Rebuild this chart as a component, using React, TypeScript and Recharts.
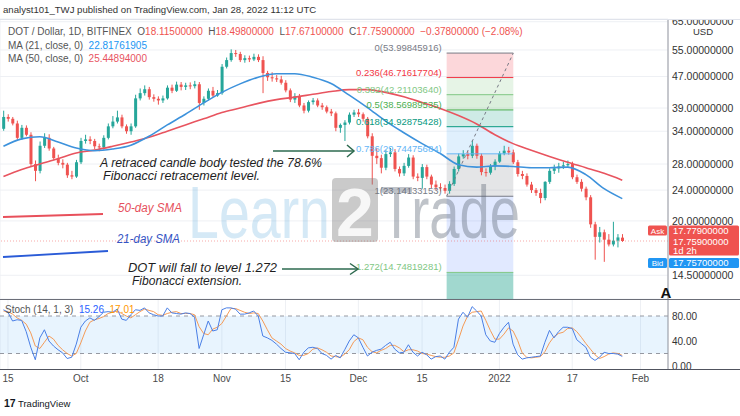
import React from 'react';
import {
  ComposedChart,
  Bar,
  Line,
  XAxis,
  YAxis,
  CartesianGrid,
  ReferenceArea,
  ReferenceLine,
} from 'recharts';

// DOT/USD daily candles, index 0 = Sep 14 2021 ... index 136 = Jan 28 2022
const opens = [
  34.5, 37.0, 36.6, 35.6, 32.7, 34.7, 33.3, 28.0, 26.9, 31.2,
  32.7, 30.7, 29.0, 28.2, 27.9, 26.2, 26.0, 28.3, 32.1, 32.4,
  32.1, 31.1, 30.9, 32.7, 35.0, 36.0, 36.9, 35.0, 34.0, 35.0,
  41.3, 42.6, 43.6, 41.6, 41.2, 40.8, 41.3, 44.0, 43.2, 44.8,
  44.2, 44.6, 44.4, 44.9, 40.2, 41.2, 43.2, 42.0, 42.6, 49.8,
  51.8, 54.0, 53.7, 51.8, 52.4, 52.0, 52.8, 51.8, 48.0, 46.8,
  46.5, 46.2, 45.3, 43.3, 41.0, 41.8, 39.6, 38.4, 40.4, 40.8,
  39.6, 39.2, 38.2, 37.8, 34.7, 35.3, 35.8, 37.5, 38.0, 37.6,
  36.6, 33.0, 29.4, 29.0, 27.4, 29.7, 30.0, 27.2, 26.5, 27.7,
  29.1, 26.0, 25.8, 27.5, 26.0, 24.8, 24.4, 24.3, 23.9, 24.9,
  27.2, 29.3, 29.7, 29.4, 31.2, 29.4, 26.7, 26.6, 27.6, 28.4,
  29.8, 30.3, 30.0, 28.3, 26.4, 26.1, 24.8, 24.0, 23.6, 22.9,
  25.2, 26.9, 27.3, 27.6, 27.8, 28.0, 25.9, 25.2, 24.2, 23.0,
  19.6, 18.2, 18.7, 17.9, 17.4, 17.8, 18.115,
];
const highs = [
  38.4, 37.6, 37.0, 36.2, 35.3, 35.2, 33.8, 28.6, 32.0, 33.6,
  33.4, 31.0, 29.6, 28.8, 28.2, 26.9, 28.7, 32.7, 33.3, 33.0,
  32.5, 31.6, 33.2, 35.6, 37.2, 38.4, 37.5, 35.4, 35.6, 42.2,
  43.8, 44.6, 44.2, 42.3, 41.8, 42.0, 44.6, 44.8, 45.6, 45.5,
  45.3, 45.4, 45.8, 45.5, 41.8, 43.8, 44.2, 43.4, 50.6, 52.6,
  55.2, 55.0, 54.4, 53.3, 53.2, 53.8, 53.6, 53.0, 48.6, 48.2,
  47.4, 47.2, 46.0, 43.8, 42.6, 42.4, 40.2, 40.8, 41.4, 41.3,
  40.2, 39.6, 38.8, 38.2, 35.6, 36.3, 38.0, 38.6, 38.8, 38.0,
  37.0, 33.6, 30.8, 29.6, 30.4, 30.8, 30.6, 27.6, 28.2, 29.7,
  29.5, 26.5, 28.0, 27.9, 26.3, 25.4, 25.0, 24.8, 25.3, 27.6,
  29.8, 30.4, 30.2, 32.2, 31.6, 29.8, 27.3, 28.0, 28.8, 30.2,
  31.2, 31.0, 30.5, 28.7, 26.9, 26.5, 25.2, 24.3, 24.2, 25.3,
  27.3, 27.9, 28.2, 28.4, 28.6, 28.4, 26.3, 25.6, 24.5, 23.3,
  19.9, 19.3, 19.0, 18.5, 19.9, 18.5, 18.498,
];
const lows = [
  34.1, 36.0, 35.2, 32.3, 32.3, 33.0, 27.6, 25.3, 26.5, 30.8,
  30.3, 28.7, 27.8, 27.3, 25.8, 25.6, 25.8, 28.0, 31.6, 31.5,
  30.6, 30.2, 30.5, 32.4, 34.6, 35.6, 34.6, 33.5, 33.3, 34.7,
  40.8, 42.0, 41.0, 40.5, 39.8, 40.2, 41.0, 42.6, 42.9, 43.3,
  43.4, 43.6, 43.8, 38.6, 39.6, 40.8, 41.6, 41.7, 42.2, 49.3,
  51.3, 52.8, 51.2, 51.0, 51.2, 51.5, 51.2, 42.6, 45.8, 45.6,
  45.5, 44.8, 42.8, 40.4, 40.2, 39.2, 37.8, 38.0, 39.8, 39.2,
  38.6, 37.8, 37.2, 34.0, 33.7, 32.1, 35.4, 37.0, 37.0, 36.0,
  32.6, 24.8, 28.0, 26.5, 27.0, 29.2, 26.8, 26.0, 26.1, 27.4,
  25.6, 25.3, 24.2, 25.6, 24.3, 24.0, 23.8, 23.5, 23.5, 24.6,
  26.8, 28.9, 28.8, 29.0, 28.9, 26.2, 26.0, 26.3, 27.0, 28.2,
  29.5, 29.6, 28.0, 26.0, 25.6, 24.5, 23.6, 23.2, 22.2, 22.6,
  24.9, 26.4, 26.6, 27.2, 27.4, 25.6, 24.9, 23.8, 22.6, 19.2,
  15.9, 17.6, 15.7, 17.2, 17.2, 17.1, 17.671,
];
const closes = [
  37.0, 36.6, 35.6, 32.7, 34.7, 33.3, 28.0, 26.9, 31.2, 32.7,
  30.7, 29.0, 28.2, 27.9, 26.2, 26.0, 28.3, 32.1, 32.4, 32.1,
  31.1, 30.9, 32.7, 35.0, 36.0, 36.9, 35.0, 34.0, 35.0, 41.3,
  42.6, 43.6, 41.6, 41.2, 40.8, 41.3, 44.0, 43.2, 44.8, 44.2,
  44.6, 44.4, 44.9, 40.2, 41.2, 43.2, 42.0, 42.6, 49.8, 51.8,
  54.0, 53.7, 51.8, 52.4, 52.0, 52.8, 51.8, 48.0, 46.8, 46.5,
  46.2, 45.3, 43.3, 41.0, 41.8, 39.6, 38.4, 40.4, 40.8, 39.6,
  39.2, 38.2, 37.8, 34.7, 35.3, 35.8, 37.5, 38.0, 37.6, 36.6,
  33.0, 29.4, 29.0, 27.4, 29.7, 30.0, 27.2, 26.5, 27.7, 29.1,
  26.0, 25.8, 27.5, 26.0, 24.8, 24.4, 24.3, 23.9, 24.9, 27.2,
  29.3, 29.7, 29.4, 31.2, 29.4, 26.7, 26.6, 27.6, 28.4, 29.8,
  30.3, 30.0, 28.3, 26.4, 26.1, 24.8, 24.0, 23.6, 22.9, 25.2,
  26.9, 27.3, 27.6, 27.8, 28.0, 25.9, 25.2, 24.2, 23.0, 19.6,
  18.2, 18.7, 17.9, 17.4, 17.8, 18.137, 17.759,
];

// moving averages, every 4th day
const maDays = [
  0, 4, 8, 12, 16, 20, 24, 28, 32, 36, 40, 44, 48, 52, 56, 60, 64, 68,
  72, 76, 80, 84, 88, 92, 96, 100, 104, 108, 112, 116, 120, 124, 128, 132, 136,
];
const ma21 = [
  31.1, 32.5, 32.9, 31.9, 30.8, 30.3, 30.6, 31.3, 33.0, 35.3, 37.6, 40.2,
  42.8, 45.0, 46.8, 47.8, 47.8, 46.8, 45.1, 42.1, 39.1, 36.1, 33.7, 31.6,
  29.8, 27.9, 27.5, 27.7, 27.6, 27.4, 27.4, 27.5, 26.3, 24.2, 22.82,
];
const ma50 = [
  26.0, 27.1, 28.0, 28.9, 29.9, 30.4, 31.1, 31.9, 32.8, 34.0, 35.3, 36.6,
  38.0, 39.0, 40.1, 41.0, 41.6, 42.3, 43.0, 43.5, 43.5, 42.8, 41.7, 40.3,
  38.9, 37.3, 35.5, 33.3, 31.6, 30.4, 29.3, 28.3, 27.4, 26.5, 25.45,
];

// Stoch (14, 1, 3)
const stochK = [
  90, 86, 72, 74, 73, 55, 30, 10, 45, 58, 40, 32, 26, 21, 12, 14, 35, 62, 72, 77,
  73, 79, 86, 87, 86, 91, 75, 73, 82, 90, 89, 93, 85, 82, 80, 80, 93, 85, 84, 83,
  85, 84, 78, 28, 50, 72, 56, 58, 90, 93, 93, 91, 83, 83, 85, 88, 80, 48, 45, 41,
  35, 28, 22, 21, 20, 10, 22, 29, 30, 28, 20, 17, 11, 17, 13, 26, 40, 50, 45, 30,
  16, 22, 25, 27, 33, 38, 27, 21, 22, 34, 22, 16, 22, 18, 11, 15, 16, 11, 22, 30,
  75, 86, 78, 95, 88, 80, 50, 40, 38, 52, 62, 70, 35, 18, 11, 13, 14, 15, 16, 38,
  57, 45, 55, 62, 62, 60, 42, 36, 30, 14, 9, 14, 22, 20, 20, 19, 15.26,
];
const stochD = [
  88, 87, 83, 77, 73, 67, 53, 32, 28, 38, 48, 43, 33, 26, 20, 16, 20, 37, 56, 70,
  74, 76, 79, 84, 86, 88, 84, 80, 77, 82, 87, 91, 89, 87, 82, 81, 84, 86, 87, 84,
  84, 84, 82, 63, 52, 50, 59, 62, 68, 80, 92, 92, 89, 86, 84, 85, 84, 72, 58, 45,
  40, 35, 28, 24, 21, 17, 17, 20, 27, 29, 26, 22, 16, 15, 14, 19, 26, 39, 45, 42,
  30, 23, 21, 25, 28, 33, 33, 29, 23, 26, 26, 24, 20, 19, 17, 15, 14, 14, 16, 21,
  42, 64, 80, 86, 87, 88, 73, 57, 43, 43, 51, 61, 56, 41, 21, 14, 13, 14, 15, 23,
  37, 47, 52, 54, 60, 61, 55, 46, 36, 27, 18, 12, 15, 19, 21, 20, 17.01,
];

// time axis
const tickDays = [1, 17, 34, 48, 62, 78, 92, 109, 125, 140];
const tickLabels = ['15', 'Oct', '18', 'Nov', '15', 'Dec', '15', '2022', '17', 'Feb'];
const priceTicks = [14.5, 20, 24, 28, 34, 39, 47, 55, 65];
const stochTicks = [0, 40, 80];

// fibonacci retracement drawing
const fibRatios = ['0', '0.236', '0.382', '0.5', '0.618', '0.786', '1', '1.272'];
const fibPrices = [
  53.99845916, 46.71617704, 42.2110364, 38.56989535, 34.92875428, 29.74475684,
  23.14133153, 14.74819281,
];
const fibStart = 97.4;
const fibEnd = 112.05;
const lastPrice = 17.759;

const fibLineColors = ['#787b86', '#f23645', '#81c784', '#4caf50', '#089981', '#64b5f6', '#787b86', '#81c784'];
const fibBandColors = ['#f23645', '#81c784', '#4caf50', '#089981', '#64b5f6', '#787b86', '#2962ff', '#089981'];
const fibBandOpacity = [0.2, 0.2, 0.2, 0.2, 0.2, 0.2, 0.14, 0.38];

const X_DOMAIN: [number, number] = [-0.758, 146.05];
const PRICE_DOMAIN: [number, number] = [12.6, 66.06];
const STOCH_DOMAIN: [number, number] = [-4.8, 107.2];

const UP = '#26a69a';
const DOWN = '#ef5350';
const FONT = '"Liberation Sans", Arial, sans-serif';

const rows = closes.map((c, i) => {
  const m = maDays.indexOf(i);
  return {
    i,
    o: opens[i],
    h: highs[i],
    l: lows[i],
    c,
    ma21: m >= 0 ? ma21[m] : null,
    ma50: m >= 0 ? ma50[m] : null,
    k: stochK[i],
    d: stochD[i],
  };
});

const candleColor = (p: any) => (p.c >= p.o ? UP : DOWN);

const Wick = (props: any) => {
  const { x, y, width, height, payload } = props;
  return <rect x={x + width / 2 - 0.5} y={y} width={1} height={Math.max(height, 1)} fill={candleColor(payload)} />;
};

const Body = (props: any) => {
  const { x, y, width, height, payload } = props;
  return <rect x={x} y={y} width={width} height={Math.max(height, 1)} fill={candleColor(payload)} />;
};

const fibLabel = (text: string, color: string) => (props: any) => {
  const vb = props.viewBox || {};
  return (
    <text x={vb.x - 5} y={vb.y - 2} textAnchor="end" fontSize={9.5} fill={color}>
      {text}
    </text>
  );
};

const PriceTags = (props: any) => {
  const vb = props.viewBox || {};
  const y = vb.y;
  const xr = vb.x + vb.width;
  const t = { fontSize: 9.5, fill: '#fff' };
  return (
    <g>
      <rect x={xr - 20} y={y - 15.5} width={19} height={10} fill={DOWN} rx={1.5} />
      <text x={xr - 10.5} y={y - 7.5} textAnchor="middle" {...t} fontSize={8}>Ask</text>
      <rect x={xr + 1} y={y - 15.5} width={70} height={30} fill={DOWN} rx={1.5} />
      <text x={xr + 5} y={y - 7.3} {...t}>17.77900000</text>
      <text x={xr + 5} y={y + 3.5} {...t}>17.75900000</text>
      <text x={xr + 5} y={y + 12.5} {...t}>1d 2h</text>
      <rect x={xr - 20} y={y + 17} width={19} height={10} fill="#2196f3" rx={1.5} />
      <text x={xr - 10.5} y={y + 25} textAnchor="middle" {...t} fontSize={8}>Bid</text>
      <rect x={xr + 1} y={y + 17} width={70} height={10} fill="#2196f3" rx={1.5} />
      <text x={xr + 5} y={y + 25.3} {...t}>17.75700000</text>
    </g>
  );
};

const legendRow: React.CSSProperties = {
  position: 'absolute',
  left: 8,
  fontSize: 10,
  color: '#555',
  whiteSpace: 'nowrap',
  lineHeight: '12px',
};

const App: React.FC = () => {
  return (
    <div
      style={{
        position: 'absolute',
        left: 0,
        top: 0,
        width: 740,
        height: 416,
        background: '#fff',
        overflow: 'hidden',
        fontFamily: FONT,
      }}
    >
      <div style={{ position: 'absolute', left: 3, top: 4, fontSize: 9.6, color: '#333', whiteSpace: 'nowrap' }}>
        analyst101_TWJ published on TradingView.com, Jan 28, 2022 11:12 UTC
      </div>

      {/* price pane */}
      <div style={{ position: 'absolute', left: 0, top: 0 }}>
        <ComposedChart width={740} height={300} data={rows} margin={{ top: 19, right: 0, bottom: 1, left: 0 }}>
          <XAxis xAxisId="w" dataKey="i" type="number" domain={X_DOMAIN} allowDataOverflow hide />
          <XAxis
            xAxisId="b"
            dataKey="i"
            type="number"
            domain={X_DOMAIN}
            allowDataOverflow
            ticks={tickDays}
            interval={0}
            tick={false}
            tickLine={false}
            axisLine={false}
            height={0}
          />
          <YAxis
            orientation="right"
            width={72}
            scale="log"
            domain={PRICE_DOMAIN}
            allowDataOverflow
            ticks={priceTicks}
            interval={0}
            tickFormatter={(v: number) => v.toFixed(8)}
            tickLine={false}
            tickSize={2}
            tickMargin={2}
            axisLine={{ stroke: '#9598a1' }}
            tick={{ fontSize: 10.5, fill: '#333' }}
          />
          <CartesianGrid xAxisId="b" stroke="#eef0f4" />

          {fibPrices.map((p, k) => (
            <ReferenceArea
              key={`band-${k}`}
              xAxisId="b"
              x1={fibStart}
              x2={fibEnd}
              y1={k < fibPrices.length - 1 ? fibPrices[k + 1] : PRICE_DOMAIN[0]}
              y2={p}
              fill={fibBandColors[k]}
              fillOpacity={fibBandOpacity[k]}
              stroke="none"
            />
          ))}

          <Bar xAxisId="w" dataKey={(r: any) => [r.l, r.h]} barSize={1} shape={Wick} isAnimationActive={false} />
          <Bar
            xAxisId="b"
            dataKey={(r: any) => [Math.min(r.o, r.c), Math.max(r.o, r.c)]}
            barSize={3}
            shape={Body}
            isAnimationActive={false}
          />

          <Line xAxisId="b" dataKey="ma50" type="monotone" stroke="#e8545f" strokeWidth={1.6} dot={false} connectNulls isAnimationActive={false} />
          <Line xAxisId="b" dataKey="ma21" type="monotone" stroke="#3d92dc" strokeWidth={1.6} dot={false} connectNulls isAnimationActive={false} />

          {fibPrices.map((p, k) => (
            <ReferenceLine
              key={`fib-${k}`}
              xAxisId="b"
              segment={[{ x: fibStart, y: p }, { x: fibEnd, y: p }]}
              stroke={fibLineColors[k]}
              strokeWidth={1}
              label={fibLabel(`${fibRatios[k]}(${p.toFixed(8)})`, fibLineColors[k])}
            />
          ))}
          <ReferenceLine
            xAxisId="b"
            segment={[{ x: fibStart, y: fibPrices[6] }, { x: fibEnd, y: fibPrices[0] }]}
            stroke="#787b86"
            strokeDasharray="3 3"
          />
          <ReferenceLine
            xAxisId="b"
            y={lastPrice}
            stroke={DOWN}
            strokeOpacity={0.5}
            strokeDasharray="1 2"
            label={PriceTags}
          />
        </ComposedChart>
      </div>

      {/* stochastic pane */}
      <div style={{ position: 'absolute', left: 0, top: 299 }}>
        <ComposedChart width={740} height={91} data={rows} margin={{ top: 0, right: 0, bottom: 0, left: 0 }}>
          <CartesianGrid stroke="#eef0f4" horizontal={false} />
          <XAxis
            dataKey="i"
            type="number"
            domain={X_DOMAIN}
            allowDataOverflow
            ticks={tickDays}
            interval={0}
            tickFormatter={(v: number) => tickLabels[tickDays.indexOf(v)]}
            tickLine={false}
            tickSize={0}
            tickMargin={6}
            height={21}
            axisLine={false}
            tick={{ fontSize: 10, fill: '#4a4a4a' }}
          />
          <YAxis
            orientation="right"
            width={72}
            domain={STOCH_DOMAIN}
            allowDataOverflow
            ticks={stochTicks}
            interval={0}
            tickFormatter={(v: number) => v.toFixed(2)}
            tickLine={false}
            tickSize={2}
            tickMargin={2}
            axisLine={{ stroke: '#9598a1' }}
            tick={{ fontSize: 10, fill: '#333' }}
          />
          <ReferenceArea y1={20} y2={80} fill="#2196f3" fillOpacity={0.1} stroke="none" />
          <ReferenceLine y={80} stroke="#9598a1" strokeDasharray="4 4" />
          <ReferenceLine y={20} stroke="#9598a1" strokeDasharray="4 4" />
          <Line dataKey="d" stroke="#f59b57" strokeWidth={1} dot={false} isAnimationActive={false} />
          <Line dataKey="k" stroke="#4a7fe6" strokeWidth={1} dot={false} isAnimationActive={false} />
        </ComposedChart>
      </div>

      {/* frame lines */}
      <div style={{ position: 'absolute', left: 0, top: 19, width: 740, height: 1, background: '#e0e3eb' }} />
      <div style={{ position: 'absolute', left: 0, top: 298.5, width: 740, height: 1.5, background: '#6b6e78' }} />
      <div style={{ position: 'absolute', left: 0, top: 368.5, width: 740, height: 1.5, background: '#50535e' }} />

      {/* legends */}
      <div style={{ ...legendRow, top: 26 }}>
        DOT / Dollar, 1D, BITFINEX&nbsp;&nbsp;
        <span>O</span><span style={{ color: DOWN }}>18.11500000</span>&nbsp;&nbsp;
        <span>H</span><span style={{ color: DOWN }}>18.49800000</span>&nbsp;&nbsp;
        <span>L</span><span style={{ color: DOWN }}>17.67100000</span>&nbsp;&nbsp;
        <span>C</span><span style={{ color: DOWN }}>17.75900000</span>&nbsp;&nbsp;
        <span style={{ color: DOWN }}>−0.37800000 (−2.08%)</span>
      </div>
      <div style={{ ...legendRow, top: 39.5 }}>
        MA (21, close, 0)&nbsp;&nbsp;<span style={{ color: '#2196f3' }}>22.81761905</span>
      </div>
      <div style={{ ...legendRow, top: 53 }}>
        MA (50, close, 0)&nbsp;&nbsp;<span style={{ color: '#e8545f' }}>25.44894000</span>
      </div>
      <div style={{ ...legendRow, left: 5, top: 304 }}>
        Stoch (14, 1, 3)&nbsp;&nbsp;<span style={{ color: '#2962ff' }}>15.26</span>&nbsp;&nbsp;
        <span style={{ color: '#ff9800' }}>17.01</span>
      </div>

      {/* annotations */}
      <svg width={740} height={416} style={{ position: 'absolute', left: 0, top: 0, pointerEvents: 'none' }}>
        <rect x={669} y={0} width={71} height={19} fill="#fff" />
        <text x={703} y={35} textAnchor="middle" fontSize={9.5} fill="#333">USD</text>

        <g fontFamily={FONT}>
          <text x={188} y={238} fontSize={74} fill="#5aa9dc" opacity={0.25} textLength={142} lengthAdjust="spacingAndGlyphs">Learn</text>
          <rect x={332} y={178} width={46} height={64} rx={4} fill="#7a7a7a" opacity={0.4} />
          <text x={355} y={236} fontSize={68} fill="#fff" opacity={0.85} textAnchor="middle" fontWeight="bold">2</text>
          <text x={380} y={238} fontSize={74} fill="#5a6474" opacity={0.38} textLength={140} lengthAdjust="spacingAndGlyphs">Trade</text>
        </g>

        <g fontStyle="italic" fontSize={12}>
          <text x={100} y={167} fill="#1e1e1e" textLength={222} lengthAdjust="spacingAndGlyphs">A retraced candle body tested the 78.6%</text>
          <text x={103} y={180} fill="#1e1e1e" textLength={157} lengthAdjust="spacingAndGlyphs">Fibonacci retracement level.</text>
          <text x={118} y={212} fill="#e6505c" textLength={64} lengthAdjust="spacingAndGlyphs">50-day SMA</text>
          <text x={117} y={243} fill="#3454c4" textLength={63} lengthAdjust="spacingAndGlyphs">21-day SMA</text>
          <text x={128} y={272} fill="#1e1e1e" textLength={149} lengthAdjust="spacingAndGlyphs">DOT will fall to level 1.272</text>
          <text x={132} y={285} fill="#1e1e1e" textLength={110} lengthAdjust="spacingAndGlyphs">Fibonacci extension.</text>
        </g>

        <g stroke="#2d6a4f" strokeWidth={1.5} fill="none">
          <line x1={273} y1={151} x2={354} y2={151} />
          <polyline points="347,145 354,151 347,157" />
          <line x1={282} y1={269} x2={358} y2={269} />
          <polyline points="350,263.5 358,269 350,274.5" />
        </g>
        <line x1={3} y1={217} x2={103} y2={214} stroke="#e8505b" strokeWidth={1.8} />
        <line x1={3} y1={257} x2={108} y2={251} stroke="#2a5bd7" strokeWidth={1.8} />

        <text x={666} y={298} textAnchor="middle" fontSize={15} fontWeight="bold" fill="#111">A</text>

        <text x={4} y={407} fontSize={10.5} fontWeight="bold" fill="#131722">17</text>
        <text x={18} y={407} fontSize={9.5} fill="#131722">TradingView</text>
      </svg>
    </div>
  );
};

export default App;
